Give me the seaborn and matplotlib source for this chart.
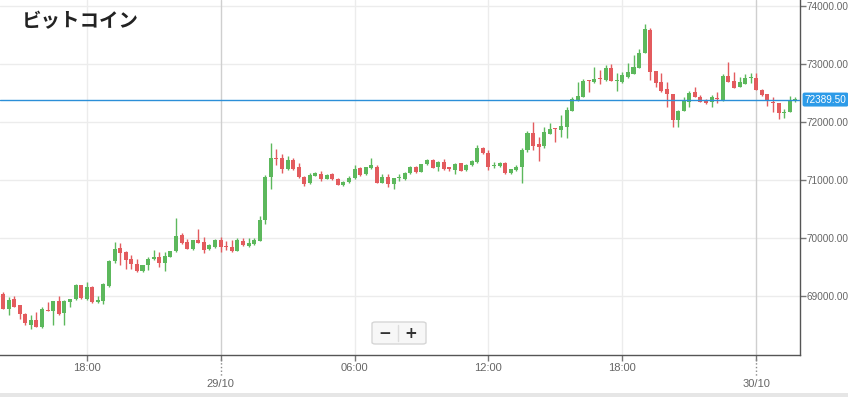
import numpy as np
import pandas as pd
import seaborn as sns
import matplotlib.pyplot as plt
import matplotlib.transforms as mtrans
from matplotlib.patches import FancyBboxPatch, Rectangle

# 15-minute candles, 28/10 14:15 -> 30/10 01:45
start = pd.Timestamp('2024-10-28 14:15')
opens = [69043, 68790, 68957, 68849, 68694, 68515, 68596, 68481, 68773, 68756,
         68928, 68711, 68911, 68952, 69198, 68957, 69159, 68911, 68928, 69176,
         69611, 69830, 69761, 69640, 69560, 69434, 69537, 69651, 69685, 69582,
         69685, 69788, 70059, 69933, 69818, 69973, 69943, 69813, 69857, 69967,
         69874, 69852, 69788, 69955, 69874, 69899, 69955, 70312, 71052, 71379,
         71384, 71200, 71349, 71229, 71052, 70948, 71079, 71114, 71028, 71103,
         71022, 70914, 70966, 71034, 71207, 71103, 71207, 71234, 70959, 71052,
         70936, 71034, 71028, 71121, 71224, 71148, 71275, 71349, 71234, 71310,
         71229, 71172, 71293, 71172, 71258, 71315, 71551, 71465, 71246, 71246,
         71293, 71121, 71177, 71224, 71522, 71819, 71625, 71590, 71797, 71888,
         71866, 71923, 72198, 72382, 72439, 72714, 72692, 72766, 72726, 72928,
         72709, 72697, 72783, 72830, 72938, 73196, 73587, 72876, 72687, 72571,
         72485, 72038, 72198, 72353, 72520, 72439, 72382, 72342, 72411, 72382,
         72795, 72714, 72611, 72657, 72761, 72755, 72554, 72485, 72336, 72325,
         72163, 72181, 72382]
highs = [69078, 68997, 69014, 68854, 68721, 68677, 68733, 68815, 68906, 68923,
         69009, 68940, 68957, 69210, 69198, 69255, 69181, 69009, 69227, 69623,
         69933, 69916, 69788, 69715, 69640, 69542, 69685, 69795, 69761, 69771,
         69788, 70351, 70088, 69985, 69973, 70162, 70024, 69899, 69981, 70029,
         69955, 69967, 70012, 70002, 70012, 70002, 70386, 71091, 71642, 71539,
         71453, 71418, 71379, 71303, 71074, 71131, 71148, 71160, 71100, 71121,
         71034, 70988, 71079, 71263, 71234, 71234, 71379, 71263, 71108, 71103,
         71045, 71103, 71138, 71246, 71246, 71281, 71367, 71361, 71332, 71367,
         71234, 71293, 71303, 71281, 71349, 71608, 71579, 71522, 71320, 71315,
         71315, 71194, 71263, 71551, 71854, 72003, 71740, 71923, 71981, 71895,
         72124, 72267, 72439, 72692, 72749, 72726, 72955, 72898, 72984, 73002,
         72841, 72859, 73014, 73157, 73260, 73690, 73616, 72881, 72841, 72687,
         72485, 72210, 72439, 72532, 72601, 72468, 72391, 72468, 72525, 72830,
         73031, 72869, 72783, 72830, 72841, 72841, 72563, 72485, 72428, 72330,
         72222, 72451, 72428]
lows = [68780, 68687, 68815, 68618, 68515, 68436, 68470, 68463, 68750, 68515,
        68682, 68515, 68825, 68945, 68952, 68940, 68883, 68883, 68871, 69159,
        69572, 69537, 69479, 69479, 69422, 69422, 69456, 69628, 69513, 69434,
        69680, 69771, 69904, 69813, 69801, 69921, 69744, 69801, 69843, 69771,
        69801, 69771, 69783, 69869, 69852, 69887, 69947, 70243, 70845, 71263,
        71131, 71177, 71177, 71040, 70907, 70936, 71074, 70993, 71014, 71005,
        70919, 70902, 70954, 71022, 71069, 71091, 71189, 70954, 70948, 70890,
        70850, 70993, 71005, 71108, 71121, 71138, 71263, 71212, 71165, 71177,
        71155, 71103, 71160, 71160, 71246, 71306, 71453, 71177, 71207, 71224,
        71108, 71108, 71168, 70948, 71487, 71522, 71337, 71551, 71790, 71659,
        71750, 71733, 72193, 72373, 72434, 72525, 72669, 72657, 72717, 72709,
        72542, 72669, 72755, 72821, 72933, 73191, 72726, 72611, 72520, 72256,
        71923, 71912, 72193, 72256, 72434, 72348, 72313, 72256, 72336, 72373,
        72692, 72580, 72606, 72649, 72680, 72546, 72459, 72279, 72181, 72060,
        72072, 72176, 72353]
closes = [68790, 68940, 68825, 68694, 68539, 68596, 68481, 68785, 68756, 68918,
          68694, 68918, 68957, 69198, 68974, 69159, 68911, 68945, 69215, 69611,
          69813, 69754, 69628, 69554, 69434, 69537, 69651, 69685, 69582, 69697,
          69788, 70041, 69916, 69823, 69973, 69926, 69801, 69887, 69967, 69857,
          69852, 69783, 69967, 69881, 69926, 69967, 70312, 71062, 71384, 71367,
          71200, 71349, 71189, 71052, 70936, 71091, 71131, 71022, 71091, 71017,
          70924, 70976, 71034, 71189, 71091, 71224, 71263, 70959, 71052, 70936,
          71034, 71062, 71121, 71224, 71148, 71275, 71349, 71217, 71310, 71189,
          71194, 71281, 71165, 71269, 71332, 71551, 71465, 71234, 71263, 71293,
          71121, 71189, 71234, 71522, 71819, 71595, 71578, 71836, 71883, 71878,
          71935, 72210, 72394, 72451, 72704, 72704, 72738, 72749, 72938, 72714,
          72726, 72812, 72869, 72950, 73186, 73604, 72869, 72680, 72537, 72485,
          72038, 72198, 72365, 72508, 72439, 72353, 72325, 72439, 72399, 72795,
          72697, 72583, 72687, 72755, 72773, 72554, 72468, 72360, 72325, 72163,
          72181, 72382, 72389.5]
last_price = 72389.5
y_ticks = [69000, 70000, 71000, 72000, 73000, 74000]
x_tick_times = ['2024-10-28 18:00', '2024-10-29 00:00', '2024-10-29 06:00',
                '2024-10-29 12:00', '2024-10-29 18:00', '2024-10-30 00:00']
x_tick_labels = ['18:00', '', '06:00', '12:00', '18:00', '']
date_labels = {1: '29/10', 5: '30/10'}

df = pd.DataFrame({'open': opens, 'high': highs, 'low': lows, 'close': closes})
df['time'] = pd.date_range(start, periods=len(df), freq='15min')
df['pos'] = (df['time'] - start) / pd.Timedelta('15min')
up = df['close'] >= df['open']
GREEN, RED = '#5cb85c', '#e35b5e'
df['color'] = np.where(up, GREEN, RED)

sns.set_style('white')
plt.rcParams['font.family'] = ['Liberation Sans Narrow', 'Liberation Sans']

fig = plt.figure(figsize=(8.48, 3.97), dpi=100)
ax = fig.add_axes([0, 42 / 397, 800 / 848, 355 / 397])

# grid
tick_pos = [(pd.Timestamp(t) - start) / pd.Timedelta('15min') for t in x_tick_times]
for v in y_ticks:
    ax.axhline(v, color='#ececec', lw=1, zorder=0)
for i, p in enumerate(tick_pos):
    ax.axvline(p, color='#cfcfcf' if i in date_labels else '#ececec', lw=1, zorder=0)

# candles
ax.vlines(df['pos'], df['low'], df['high'], colors=df['color'], lw=1, zorder=2)
body = np.maximum((df['close'] - df['open']).abs(), 18)
ax.bar(df['pos'], body, bottom=np.minimum(df['open'], df['close']),
       width=0.72, color=df['color'], linewidth=0, zorder=3)

# last price
ax.axhline(last_price, color='#2b8fd8', lw=1, zorder=4)
ax.annotate(f'{last_price:.2f}', xy=(1, last_price), xycoords=ax.get_yaxis_transform(),
            xytext=(3.3, 0), textcoords='offset points', ha='left', va='center',
            color='white', fontsize=7.2,
            bbox=dict(boxstyle='round,pad=0.2', fc='#2d9be8', ec='none'),
            annotation_clip=False, zorder=6)

ax.set_xlim(-0.54, 142.84)
ax.set_ylim(67993, 74103)
ax.set_yticks(y_ticks)
ax.set_yticklabels([f'{v:.2f}' for v in y_ticks])
ax.yaxis.tick_right()
ax.set_xticks(tick_pos)
ax.set_xticklabels(x_tick_labels)
ax.tick_params(axis='y', length=4, width=1, color='#777', labelcolor='#666',
               labelsize=7.2, pad=0.5, right=True, left=False)
ax.tick_params(axis='x', length=4, width=1, color='#777', labelcolor='#666',
               labelsize=8, pad=1.5, bottom=True)
for s in ['top', 'left']:
    ax.spines[s].set_visible(False)
for s in ['right', 'bottom']:
    ax.spines[s].set_color('#555')
    ax.spines[s].set_linewidth(1)

trans = mtrans.blended_transform_factory(ax.transData, ax.transAxes)
for i, lab in date_labels.items():
    p = tick_pos[i]
    ax.plot([p, p], [-0.012, -0.06], transform=trans, ls=':', color='#888',
            lw=1, clip_on=False)
    ax.text(p, -0.082, lab, transform=trans, ha='center', va='center',
            fontsize=8, color='#666')

# title
fig.text(22 / 848, 1 - 22 / 397, 'ビットコイン', fontsize=14, fontweight='bold',
         family=['Noto Sans CJK JP'], ha='left', va='center', color='#222')

# zoom buttons
fig.add_artist(FancyBboxPatch((372 / 848, 53 / 397), 54 / 848, 22 / 397,
                              boxstyle='round,pad=0,rounding_size=0.004',
                              transform=fig.transFigure, fc='#f7f7f7',
                              ec='#d6d6d6', lw=1))
fig.add_artist(plt.Line2D([398 / 848, 398 / 848], [56 / 397, 72 / 397],
                          transform=fig.transFigure, color='#dddddd', lw=1))
fig.text(385 / 848, 63 / 397, '−', fontsize=11, fontweight='bold', color='#333',
         ha='center', va='center', family=['DejaVu Sans'])
fig.text(411 / 848, 63 / 397, '+', fontsize=11, fontweight='bold', color='#333',
         ha='center', va='center', family=['DejaVu Sans'])

fig.add_artist(Rectangle((0, 0), 1, 4 / 397, transform=fig.transFigure,
                         fc='#e6e6e6', ec='none'))

fig.savefig('out.png', dpi=100)
